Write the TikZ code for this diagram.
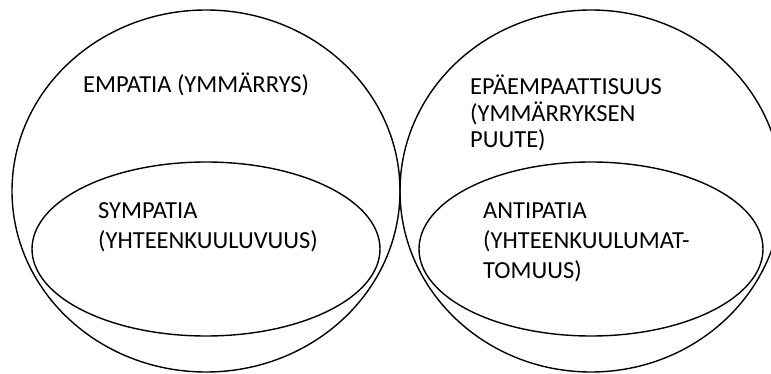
\documentclass[tikz,border=0pt]{standalone}
\usepackage{fontspec}
\setmainfont{Carlito}
\usetikzlibrary{shapes.geometric}
\begin{document}
\begin{tikzpicture}[x=1pt,y=-1pt,
  ring/.style={draw=black,line width=1.4pt,ellipse,inner sep=0pt},
  lbl/.style={anchor=base west,inner sep=0pt,align=left,font=\fontsize{24.5}{30}\selectfont}]
\useasboundingbox (0,0) rectangle (771,374);
\begin{scope}
\clip (0,0) rectangle (771,374);
\node[ring,minimum width=388pt,minimum height=362pt] (emp) at (206,191) {};
\node[ring,minimum width=382pt,minimum height=362pt] (epa) at (591,191) {};
\node[ring,minimum width=348pt,minimum height=174pt] (sym) at (206,249) {};
\node[ring,minimum width=344pt,minimum height=174pt] (ant) at (591,249) {};
\end{scope}
\node[lbl] (t1) at (83,93) {EMPATIA (YMMÄRRYS)};
\node[lbl,font=\fontsize{24.5}{26.5}\selectfont] (t2) at (470,148) {EPÄEMPAATTISUUS\\(YMMÄRRYKSEN\\PUUTE)};
\node[lbl] (t3) at (98,248) {SYMPATIA\\(YHTEENKUULUVUUS)};
\node[lbl] (t4) at (483,278) {ANTIPATIA\\(YHTEENKUULUMAT-\\TOMUUS)};
\end{tikzpicture}
\end{document}
